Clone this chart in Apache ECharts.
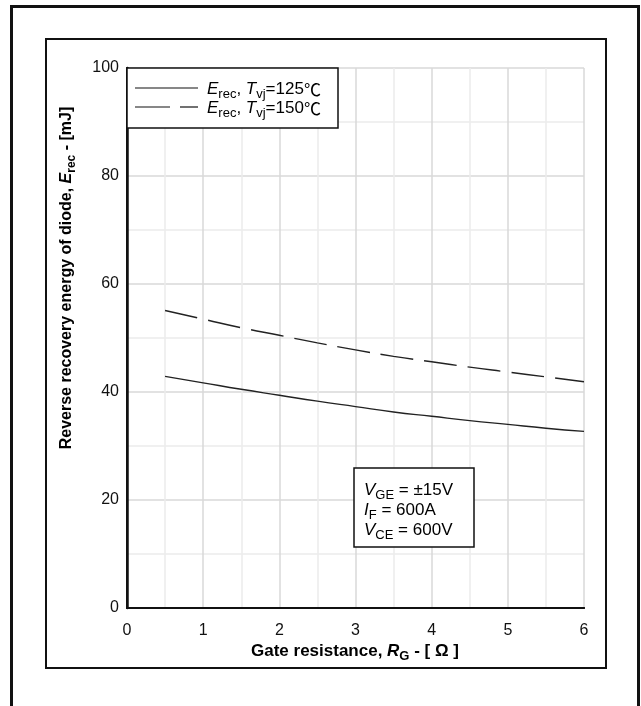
<!DOCTYPE html>
<html>
<head>
<meta charset="utf-8">
<script src="https://cdn.jsdelivr.net/npm/echarts@6/dist/echarts.min.js"></script>
<style>
html,body{margin:0;padding:0;background:#fff;}
#c{width:641px;height:706px;}
</style>
</head>
<body>
<div id="c"></div>
<script>
// ---- data ----
var rg = [0.5, 1, 1.5, 2, 2.5, 3, 3.5, 4, 4.5, 5, 5.5, 6];
var erec125 = [42.9, 41.7, 40.5, 39.4, 38.3, 37.3, 36.3, 35.5, 34.7, 34.0, 33.3, 32.7];
var erec150 = [55.1, 53.5, 51.9, 50.5, 49.1, 47.8, 46.6, 45.6, 44.6, 43.7, 42.8, 41.9];
var xTicks = [0, 1, 2, 3, 4, 5, 6];
var yTicks = [0, 20, 40, 60, 80, 100];
var legendNames = ['{i|E}{sub|rec}{n|, }{i|T}{sub|vj}{n|=125}{deg|\u2103}', '{i|E}{sub|rec}{n|, }{i|T}{sub|vj}{n|=150}{deg|\u2103}'];
var condText = '{i|V}{sub|GE}{n| = \u00b115V}\n{i|I}{sub|F}{n| = 600A}\n{i|V}{sub|CE}{n| = 600V}';

function pairs(xs, ys) { return xs.map(function (x, i) { return [x, ys[i]]; }); }

var FONT = '"Liberation Sans", Arial, sans-serif';
function richSet(size, bold) {
  var w = bold ? 'bold' : 'normal';
  return {
    n: {fontSize: size, fontFamily: FONT, fontWeight: w, color: '#111', lineHeight: 20, verticalAlign: 'bottom'},
    i: {fontSize: size, fontFamily: FONT, fontWeight: w, fontStyle: 'italic', color: '#111', lineHeight: 20, verticalAlign: 'bottom'},
    deg: {fontSize: size, fontFamily: '"Noto Sans CJK SC", ' + FONT, fontWeight: 'normal', color: '#111', lineHeight: 20, verticalAlign: 'bottom'},
    sub: {fontSize: Math.round(size * 0.75), fontFamily: FONT, fontWeight: w, color: '#111', lineHeight: 16, verticalAlign: 'bottom', padding: [0, 0, -3, 0]}
  };
}
var richN = richSet(17, false);
var richB = richSet(16, true);
var richBX = richSet(17, true);

var chart = echarts.init(document.getElementById('c'), null, {renderer: 'canvas'});
var option = {
  animation: false,
  backgroundColor: '#fff',
  grid: {left: 127, top: 68, width: 457, height: 540, show: false},
  xAxis: [{
    type: 'value', min: xTicks[0], max: xTicks[xTicks.length - 1], interval: 1,
    axisLine: {show: true, onZero: false, lineStyle: {color: '#111', width: 2}},
    axisTick: {show: false},
    axisLabel: {color: '#111', fontSize: 16, fontFamily: FONT, margin: 15},
    splitLine: {show: true, lineStyle: {color: '#d9d9d9', width: 1.5}},
    minorTick: {show: false, splitNumber: 2},
    minorSplitLine: {show: true, lineStyle: {color: '#ececec', width: 1.5}}
  }, {
    type: 'value', position: 'top', min: 0, max: 6,
    axisLine: {show: true, lineStyle: {color: '#111', width: 2}},
    axisTick: {show: false}, axisLabel: {show: false}, splitLine: {show: false}
  }],
  yAxis: [{
    type: 'value', min: yTicks[0], max: yTicks[yTicks.length - 1], interval: 20,
    axisLine: {show: true, onZero: false, lineStyle: {color: '#111', width: 2.5}},
    axisTick: {show: false},
    axisLabel: {color: '#111', fontSize: 16, fontFamily: FONT, margin: 8},
    splitLine: {show: true, lineStyle: {color: '#d9d9d9', width: 1.5}},
    minorTick: {show: false, splitNumber: 2},
    minorSplitLine: {show: true, lineStyle: {color: '#ececec', width: 1.5}}
  }, {
    type: 'value', position: 'right', min: 0, max: 100,
    axisLine: {show: true, lineStyle: {color: '#111', width: 2}},
    axisTick: {show: false}, axisLabel: {show: false}, splitLine: {show: false}
  }],
  series: [{
    type: 'line', name: 'Erec 125', data: pairs(rg, erec125), smooth: true, symbol: 'none',
    lineStyle: {color: '#222', width: 1.4, type: 'solid'}, z: 3
  }, {
    type: 'line', name: 'Erec 150', data: pairs(rg, erec150), smooth: true, symbol: 'none',
    lineStyle: {color: '#222', width: 1.4, type: [33, 11]}, z: 3
  }],
  graphic: [
    {type: 'rect', shape: {x: 11.5, y: 6.5, width: 627, height: 720}, style: {fill: 'none', stroke: '#111', lineWidth: 3}, z: 1},
    {type: 'rect', shape: {x: 46, y: 39, width: 560, height: 629}, style: {fill: 'none', stroke: '#111', lineWidth: 2}, z: 1},
    {type: 'rect', shape: {x: 127, y: 68, width: 211, height: 60}, style: {fill: '#fff', stroke: '#111', lineWidth: 1.5}, z: 10},
    {type: 'line', shape: {x1: 135, y1: 88, x2: 198, y2: 88}, style: {stroke: '#111', lineWidth: 1.2}, z: 11},
    {type: 'line', shape: {x1: 135, y1: 107, x2: 170, y2: 107}, style: {stroke: '#111', lineWidth: 1.2}, z: 11},
    {type: 'line', shape: {x1: 180, y1: 107, x2: 198, y2: 107}, style: {stroke: '#111', lineWidth: 1.2}, z: 11},
    {type: 'text', x: 207, y: 88, style: {text: legendNames[0], rich: richN, verticalAlign: 'middle', align: 'left'}, z: 11},
    {type: 'text', x: 207, y: 107, style: {text: legendNames[1], rich: richN, verticalAlign: 'middle', align: 'left'}, z: 11},
    {type: 'rect', shape: {x: 354, y: 468, width: 120, height: 79}, style: {fill: '#fff', stroke: '#111', lineWidth: 1.5}, z: 10},
    {type: 'text', x: 364, y: 509, style: {text: condText, rich: richN, verticalAlign: 'middle', align: 'left'}, z: 11},
    {type: 'text', x: 355, y: 650, style: {text: '{n|Gate resistance, }{i|R}{sub|G}{n| - [ \u03a9 ]}', rich: richBX, align: 'center', verticalAlign: 'middle'}, z: 11},
    {type: 'text', x: 65, y: 278, rotation: Math.PI / 2, style: {text: '{n|Reverse recovery energy of diode, }{i|E}{sub|rec}{n| - [mJ]}', rich: richB, align: 'center', verticalAlign: 'middle'}, z: 11}
  ]
};
chart.setOption(option);
</script>
</body>
</html>
